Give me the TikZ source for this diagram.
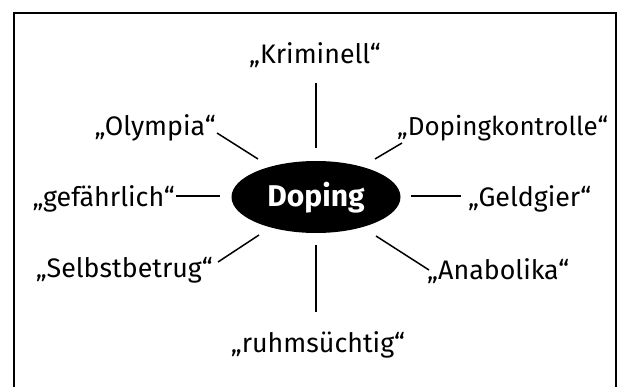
\documentclass[tikz,border=0pt]{standalone}
\usepackage{fontspec}
\setmainfont{Fira Sans}
\usetikzlibrary{shapes.geometric}
\begin{document}
\begin{tikzpicture}[x=1pt,y=-1pt,
  lbl/.style={inner sep=0pt,font=\fontsize{26.8}{30}\selectfont},
  ray/.style={line width=1.5pt},
  frame/.style={line width=1.4pt}]
\useasboundingbox (0,0) rectangle (617,387);
\draw[frame] (14,390) -- (14,13) -- (616,13) -- (616,390);
\node[ellipse,fill=black,minimum width=169pt,minimum height=72pt,inner sep=0pt] (doping) at (316,197) {};
\node[inner sep=0pt,text=white,font=\fontsize{30}{34}\selectfont\bfseries,anchor=base] (dtext) at (316,206) {Doping};
% labels
\node[lbl,anchor=base] (krim) at (315,64) {„Kriminell“};
\node[lbl,anchor=base east] (olym) at (216,136) {„Olympia“};
\node[lbl,anchor=base west,font=\fontsize{26}{30}\selectfont] (dkon) at (397,136) {„Dopingkontrolle“};
\node[lbl,anchor=base east] (gef) at (175,206) {„gefährlich“};
\node[lbl,anchor=base west] (geld) at (468,206) {„Geldgier“};
\node[lbl,anchor=base east] (selb) at (213,277) {„Selbstbetrug“};
\node[lbl,anchor=base west] (anab) at (427,279) {„Anabolika“};
\node[lbl,anchor=base] (ruhm) at (318,352) {„ruhmsüchtig“};
% ray ends
\coordinate (t1) at (316,83);  \coordinate (t2) at (316,148);
\coordinate (b1) at (316,245); \coordinate (b2) at (316,312);
\coordinate (l1) at (176,196); \coordinate (l2) at (220,196);
\coordinate (r1) at (411,196); \coordinate (r2) at (461,196);
\coordinate (ul1) at (217,133); \coordinate (ul2) at (258,159);
\coordinate (ur1) at (402,143); \coordinate (ur2) at (375,159);
\coordinate (ll1) at (218,262); \coordinate (ll2) at (259,235);
\coordinate (lr1) at (376,236); \coordinate (lr2) at (429,270);
\draw[ray] (t1) -- (t2);
\draw[ray] (b1) -- (b2);
\draw[ray] (l1) -- (l2);
\draw[ray] (r1) -- (r2);
\draw[ray] (ul1) -- (ul2);
\draw[ray] (ur1) -- (ur2);
\draw[ray] (ll1) -- (ll2);
\draw[ray] (lr1) -- (lr2);
\end{tikzpicture}
\end{document}
